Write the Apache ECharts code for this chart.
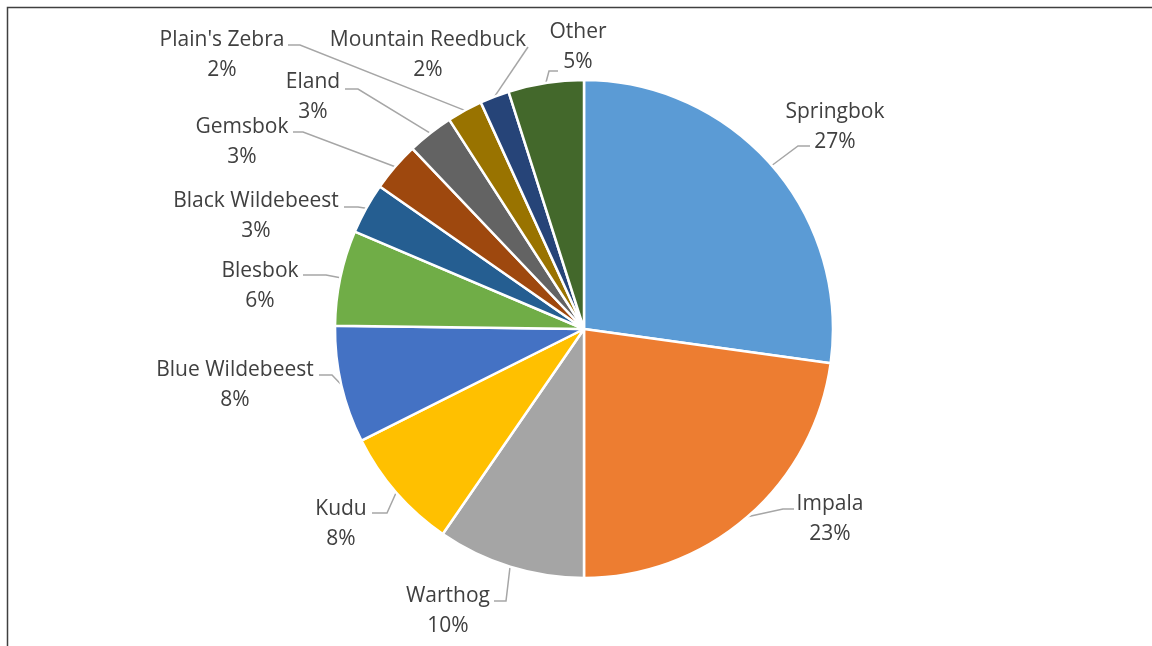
<!DOCTYPE html>
<html>
<head>
<meta charset="utf-8">
<script src="https://cdn.jsdelivr.net/npm/echarts@6/dist/echarts.min.js"></script>
<style>
  html, body { margin: 0; padding: 0; background: #ffffff; }
  #chart { width: 1152px; height: 646px; }
</style>
</head>
<body>
<div id="chart"></div>
<script>
// Species share of the game count (percent)
const species = [
  'Springbok', 'Impala', 'Warthog', 'Kudu', 'Blue Wildebeest', 'Blesbok',
  'Black Wildebeest', 'Gemsbok', 'Eland', "Plain's Zebra", 'Mountain Reedbuck', 'Other'
];
const shares = [27.2, 22.8, 9.6, 8.0, 7.6, 6.2, 3.3, 3.2, 3.0, 2.3, 1.9, 4.9];
const sliceColors = [
  '#5B9BD5', '#ED7D31', '#A5A5A5', '#FFC000', '#4472C4', '#70AD47',
  '#255E91', '#9E480E', '#636363', '#997300', '#264478', '#43682B'
];

// Label block centres (x, y) and leader-line elbow / end points
const labelSpots = [
  { x: 835, y: 127, ex: 798, ey: 146, tx: 810 },
  { x: 830, y: 519, ex: 783, ey: 509, tx: 794 },
  { x: 448, y: 611, ex: 506, ey: 601, tx: 494 },
  { x: 341, y: 524, ex: 387, ey: 513, tx: 372 },
  { x: 235, y: 385, ex: 332, ey: 375, tx: 319 },
  { x: 260, y: 286, ex: 326, ey: 275, tx: 303 },
  { x: 256, y: 216, ex: 358, ey: 207, tx: 344 },
  { x: 242, y: 142, ex: 303, ey: 132, tx: 293 },
  { x: 313, y: 97,  ex: 358, ey: 89,  tx: 345 },
  { x: 222, y: 55,  ex: 300, ey: 45,  tx: 288 },
  { x: 428, y: 55,  ex: 528, ey: 47,  tx: 528 },
  { x: 578, y: 47,  ex: 549, ey: 71,  tx: 558 }
];

const pieCenter = [584, 329];
const pieRadius = 249;

const chart = echarts.init(document.getElementById('chart'), null, { renderer: 'canvas' });

chart.setOption({
  animation: false,
  backgroundColor: '#ffffff',
  graphic: [{
    type: 'rect',
    shape: { x: 7.5, y: 7.5, width: 1300, height: 800 },
    style: { fill: 'none', stroke: '#404040', lineWidth: 1.5 },
    silent: true
  }],
  series: [{
    type: 'pie',
    center: pieCenter,
    radius: pieRadius,
    startAngle: 90,
    clockwise: true,
    avoidLabelOverlap: false,
    emphasis: { disabled: true },
    itemStyle: { borderColor: '#ffffff', borderWidth: 2.5 },
    label: {
      show: true,
      position: 'outside',
      color: '#404040',
      fontFamily: 'Open Sans',
      fontSize: 21,
      lineHeight: 30,
      align: 'center',
      overflow: 'none',
      formatter: p => p.name + '\n' + Math.round(p.percent) + '%'
    },
    labelLine: {
      show: true,
      smooth: false,
      lineStyle: { color: '#A6A6A6', width: 1.5 }
    },
    labelLayout: function (params) {
      const s = labelSpots[params.dataIndex];
      const start = params.labelLinePoints ? params.labelLinePoints[0] : [s.ex, s.ey];
      return {
        x: s.x,
        y: s.y,
        align: 'center',
        verticalAlign: 'middle',
        labelLinePoints: [start, [s.ex, s.ey], [s.tx, s.ey]]
      };
    },
    data: species.map((name, i) => ({
      name: name,
      value: shares[i],
      itemStyle: { color: sliceColors[i] }
    }))
  }]
});
</script>
</body>
</html>
